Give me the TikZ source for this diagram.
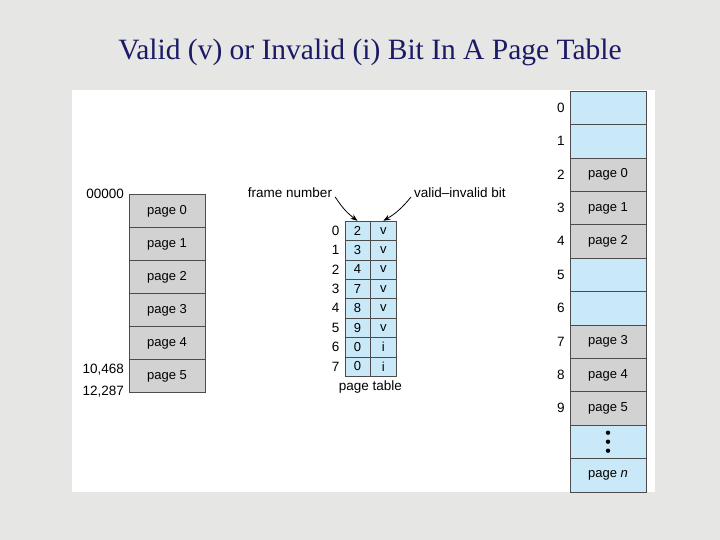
\documentclass[tikz,border=0pt]{standalone}
\usepackage{fontspec}
\setmainfont{Liberation Serif}
\setsansfont{Liberation Sans}
\usetikzlibrary{positioning,arrows.meta}
\definecolor{bgray}{HTML}{E6E6E4}
\definecolor{cellgray}{HTML}{D2D2D2}
\definecolor{cellblue}{HTML}{C9E8F8}
\definecolor{titleblue}{HTML}{1A1A66}
\tikzset{
  pagebox/.style={draw=black!70, fill=cellgray, minimum width=76pt, minimum height=33.4pt, inner sep=0pt, font=\sffamily\fontsize{13}{15}\selectfont},
  freebox/.style={pagebox, fill=cellblue},
  ptcell/.style={draw=black!70, fill=cellblue, minimum width=25.5pt, minimum height=19.4pt, inner sep=0pt, font=\sffamily\fontsize{13}{15}\selectfont},
  lbl/.style={font=\sffamily\fontsize{13.5}{15}\selectfont, inner sep=1pt},
  ptr/.style={->, >={Stealth[length=7pt]}, thick},
}
\begin{document}
\begin{tikzpicture}[x=1pt, y=-1pt]
  \useasboundingbox (0,0) rectangle (720,540);
  \fill[bgray] (0,0) rectangle (720,540);
  \fill[white] (72,90) rectangle (655,492);
  \node[font=\fontsize{29.5}{32}\selectfont, text=titleblue] (title) at (370,52) {Valid (v) or Invalid (i) Bit In A Page Table};

  % logical memory
  \foreach \i in {0,...,5}
    \node[pagebox, minimum height=33pt] (lm\i) at (167,{211+33*\i}) {page \i};
  \node[lbl, anchor=east] (a0) at (125,194) {00000};
  \node[lbl, anchor=east] (a1) at (125,370) {10,468};
  \node[lbl, anchor=east] (a2) at (125,392) {12,287};

  % page table
  \foreach \i/\f/\b in {0/2/v,1/3/v,2/4/v,3/7/v,4/8/v,5/9/v,6/0/i,7/0/i} {
    \node[ptcell] (fn\i) at (357.5,{230.7+19.4*\i}) {\f};
    \node[ptcell, right=0pt of fn\i] (vb\i) {\b};
    \node[lbl, left=4pt of fn\i] (ix\i) {\i};
  }
  \node[lbl, below=3pt of vb7.south west] (ptname) {page table};
  \node[lbl] (fnlbl) at (290,193) {frame number};
  \node[lbl] (vblbl) at (460,193) {valid--invalid bit};
  \draw[ptr] (fnlbl.east) ++(2,4) to[bend right=10] (fn0.north);
  \draw[ptr] (vblbl.west) ++(-2,4) to[bend left=10] (vb0.north);

  % physical memory
  \foreach \i/\t/\s in {0//freebox,1//freebox,2/page 0/pagebox,3/page 1/pagebox,4/page 2/pagebox,5//freebox,6//freebox,7/page 3/pagebox,8/page 4/pagebox,9/page 5/pagebox} {
    \node[\s] (pm\i) at (608,{107.7+33.4*\i}) {\t};
    \node[lbl, left=4pt of pm\i] (fr\i) {\i};
  }
  \node[freebox] (pm10) at (608,{107.7+33.4*10}) {};
  \foreach \d in {-9,0,9}
    \fill (608,{441.7+\d}) circle (2.2pt);
  \node[freebox] (pm11) at (608,{107.7+33.4*11}) {page \textit{n}};
\end{tikzpicture}
\end{document}
